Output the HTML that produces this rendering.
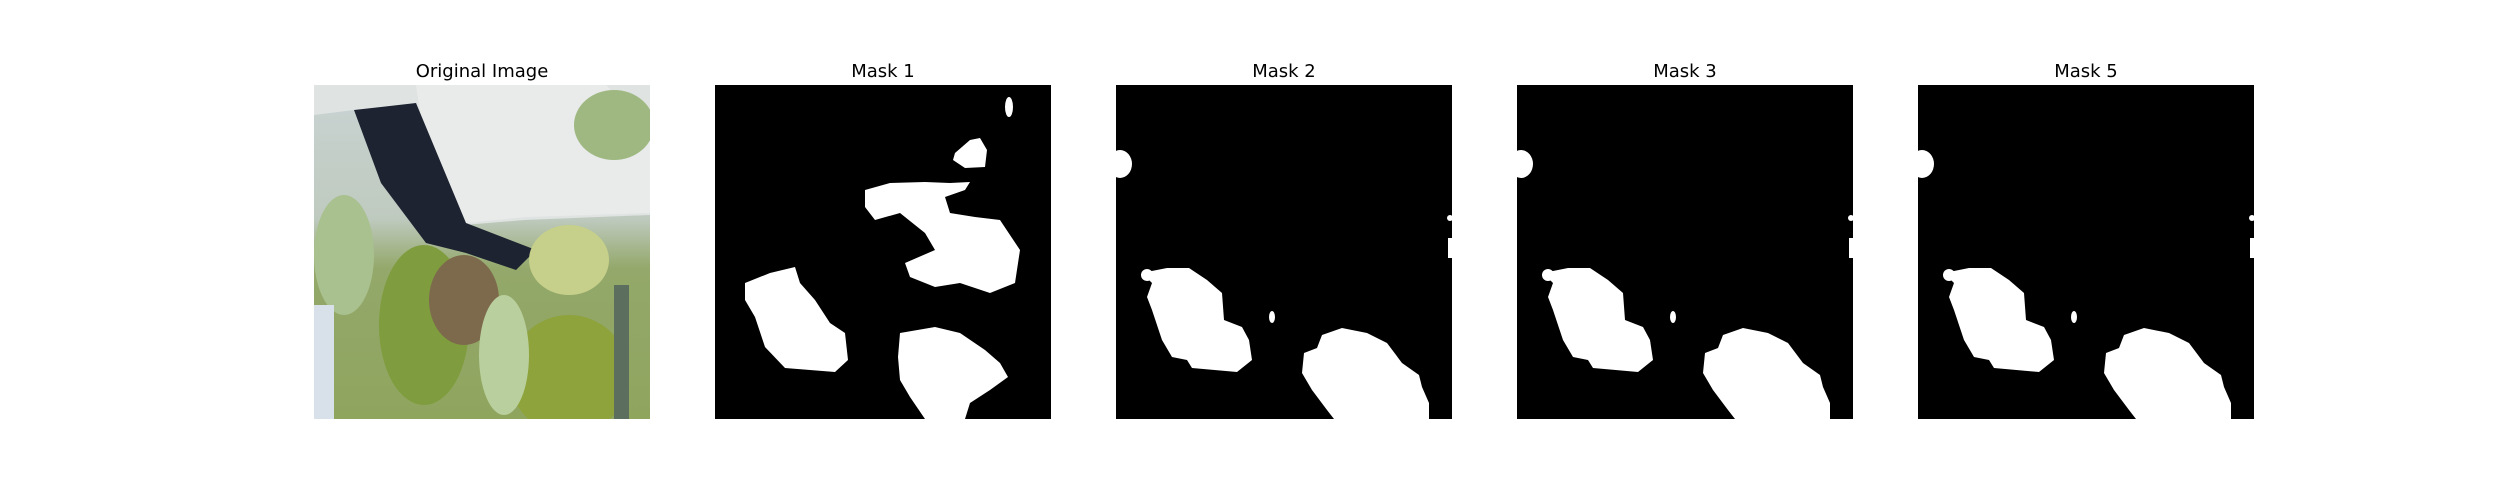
<!DOCTYPE html>
<html><head><meta charset="utf-8"><style>
body{margin:0;background:#fff;width:2500px;height:500px;overflow:hidden}
svg{position:absolute;left:0;top:0}
text{font-family:"DejaVu Sans","Liberation Sans",sans-serif;font-size:18px;fill:#000}
</style></head><body>
<svg width="2500" height="500" viewBox="0 0 2500 500">
<defs>
<clipPath id="cp"><rect x="0" y="0" width="336" height="334"/></clipPath>
<linearGradient id="bg" x1="0" y1="0" x2="0" y2="1">
<stop offset="0" stop-color="#c9d3d3"/><stop offset="0.4" stop-color="#bfcabf"/><stop offset="0.55" stop-color="#93a86a"/><stop offset="1" stop-color="#8fa55e"/></linearGradient>
<g id="m2">
<rect x="0" y="0" width="336" height="334" fill="#000"/>
<polygon fill="#fff" points="26,188 51,183 73,183 91,195 106,208 108,235 126,242 133,255 136,275 121,287 76,283 71,275 56,272 46,255 36,225 31,212 36,198"/>
<circle cx="31" cy="190" r="6" fill="#fff"/>
<polygon fill="#fff" points="206,250 226,243 251,248 271,258 286,278 303,290 306,302 313,318 313,334 218,334 211,325 196,305 186,288 188,268 201,263"/>
<ellipse cx="156" cy="232" rx="3" ry="6" fill="#fff"/>
<ellipse cx="4" cy="79" rx="12" ry="14" fill="#fff"/>
<circle cx="334" cy="133" r="3" fill="#fff"/>
<rect x="332" y="153" width="4" height="20" fill="#fff"/>
</g>
</defs>

<text x="482" y="77" text-anchor="middle">Original Image</text>
<g transform="translate(314,85)" clip-path="url(#cp)">
<rect width="336" height="334" fill="url(#bg)"/>
<polygon fill="#dfe3e2" points="0,0 336,0 336,130 210,135 150,140 105,32 40,25 0,30"/>
<polygon fill="#e9ebea" points="102,0 292,0 337,48 337,128 212,132 152,138 107,32"/>
<polygon fill="#1d2330" points="40,25 102,18 152,138 222,165 202,185 152,168 112,158 67,98"/>
<ellipse cx="300" cy="40" rx="40" ry="35" fill="#9fb882"/>
<ellipse cx="110" cy="240" rx="45" ry="80" fill="#7f9c3e"/>
<ellipse cx="255" cy="290" rx="60" ry="60" fill="#8ea33b"/>
<ellipse cx="255" cy="175" rx="40" ry="35" fill="#c6d08a"/>
<ellipse cx="150" cy="215" rx="35" ry="45" fill="#7d6a4c"/>
<ellipse cx="30" cy="170" rx="30" ry="60" fill="#a9c08f"/>
<ellipse cx="190" cy="270" rx="25" ry="60" fill="#b9cf9e"/>
<rect x="0" y="220" width="20" height="114" fill="#d8e0ea"/>
<rect x="300" y="200" width="15" height="134" fill="#5c6f5e"/>
</g>

<text x="883" y="77" text-anchor="middle">Mask 1</text>
<g transform="translate(715,85)" clip-path="url(#cp)">
<rect width="336" height="334" fill="#000"/>
<polygon fill="#fff" points="30,198 55,188 80,182 85,198 100,215 115,238 130,248 133,275 120,287 70,283 50,262 40,232 30,215"/>
<polygon fill="#fff" points="185,248 220,242 245,248 270,265 285,278 293,292 275,305 255,318 250,334 210,334 195,312 185,295 183,272"/>
<polygon fill="#fff" points="150,105 175,98 210,97 235,98 255,97 250,105 230,112 235,128 260,132 285,135 305,165 300,198 275,208 245,198 220,202 195,192 190,178 220,165 210,148 185,128 160,135 150,122"/>
<polygon fill="#fff" points="240,68 255,55 265,53 272,65 270,82 250,83 238,75"/>
<ellipse cx="294" cy="22" rx="4" ry="10" fill="#fff"/>
</g>

<text x="1284" y="77" text-anchor="middle">Mask 2</text>
<use href="#m2" transform="translate(1116,85)"/>

<text x="1685" y="77" text-anchor="middle">Mask 3</text>
<use href="#m2" transform="translate(1517,85)"/>

<text x="2086" y="77" text-anchor="middle">Mask 5</text>
<use href="#m2" transform="translate(1918,85)"/>
</svg>
</body></html>
